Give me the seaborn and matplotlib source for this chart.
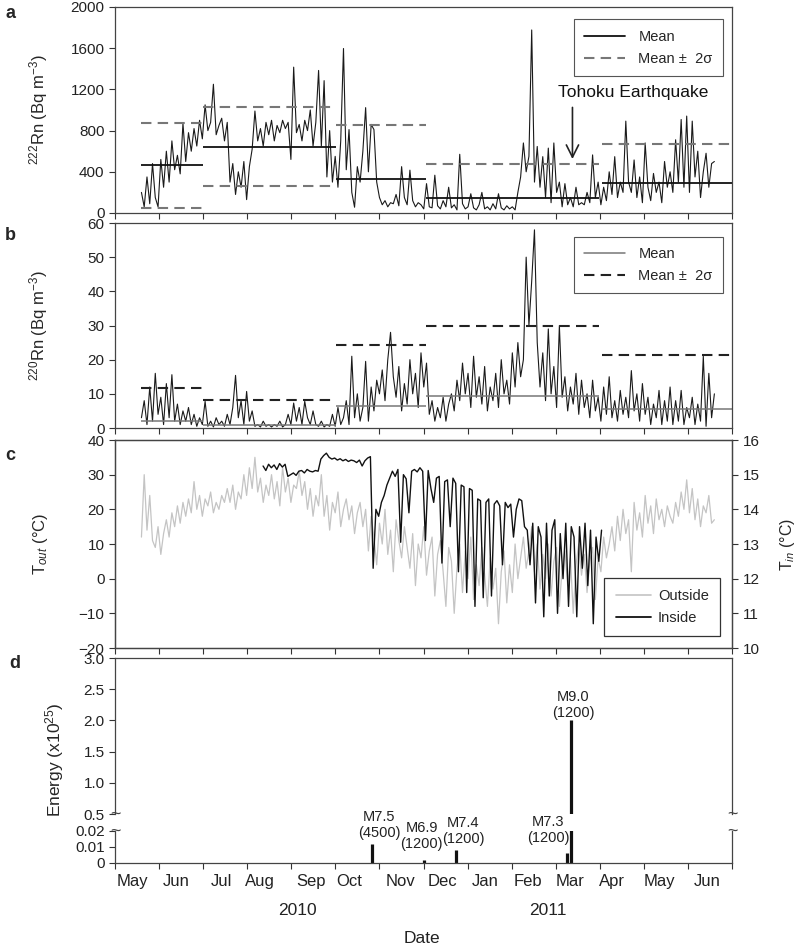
import numpy as np
import pandas as pd
import matplotlib
matplotlib.use("Agg")
import matplotlib.pyplot as plt
import matplotlib.transforms as mtransforms
from matplotlib.lines import Line2D
import seaborn as sns

# ---------------- data (x in months since 1 May 2010) ----------------
month_labels = ["May", "Jun", "Jul", "Aug", "Sep", "Oct", "Nov", "Dec",
                "Jan", "Feb", "Mar", "Apr", "May", "Jun"]
month_label_pos = [0.39, 1.40, 2.42, 3.29, 4.45, 5.32, 6.47, 7.43,
                   8.39, 9.36, 10.32, 11.27, 12.35, 13.43]
year_labels = ["2010", "2011"]
year_label_pos = [4.14, 9.83]

# 222Rn (Bq m-3), mid-May 2010 .. mid-Jun 2011
rn222 = [
    200, 60, 350, 90, 480, 150, 60, 520, 250, 600, 300, 700, 420, 560, 380, 870,
    500, 780, 600, 820, 650, 900, 720, 1050, 800, 880, 1250, 760, 850, 920, 700, 880,
    300, 480, 180, 400, 250, 500, 130, 450, 620, 990, 700, 820, 650, 880, 760, 900,
    700, 850, 780, 900, 820, 880, 520, 1416, 780, 860, 700, 900, 800, 1000, 650, 880,
    1384, 650, 1285, 350, 800, 300, 550, 250, 700, 1597, 420, 810, 200, 56, 450, 300,
    600, 1023, 400, 860, 810, 300, 150, 80, 120, 60, 100, 90, 180, 70, 450, 150,
    80, 416, 120, 60, 100, 80, 40, 285, 60, 50, 367, 70, 40, 120, 60, 250,
    50, 80, 30, 570, 90, 40, 60, 187, 50, 30, 80, 200, 40, 60, 30, 90,
    40, 187, 50, 30, 70, 40, 60, 30, 200, 350, 680, 400, 550, 1777, 300, 646,
    250, 547, 150, 630, 100, 680, 200, 300, 60, 285, 80, 150, 60, 250, 80, 100,
    80, 200, 100, 564, 150, 300, 80, 250, 120, 400, 180, 547, 150, 300, 200, 892,
    300, 200, 515, 150, 350, 100, 680, 250, 120, 384, 200, 300, 100, 500, 250, 400,
    200, 711, 300, 908, 250, 941, 200, 892, 350, 600, 150, 400, 580, 250, 480, 500,
]
# 220Rn (Bq m-3)
rn220 = [
    3, 8, 1, 12, 2, 16, 4, 9, 1, 13, 3, 15.6, 2, 7, 1, 5,
    2, 6, 1, 4, 0.5, 3, 1, 7.8, 0.5, 2, 0.3, 3, 1, 2, 0.5, 4,
    1, 6, 15.4, 3, 8, 1, 10.7, 2, 5, 0.5, 1, 0.3, 2, 0.5, 1, 0.3,
    1, 0.5, 2, 0.3, 1, 4, 1, 7.3, 2, 6, 1, 7.8, 3, 1, 5, 1,
    0.5, 2, 0.3, 1, 0.5, 4, 0.5, 6, 1, 3, 8, 1, 21, 3, 10, 2,
    6, 19.5, 2, 12, 5, 14, 10, 17, 8, 20, 28, 15, 9, 18, 5, 13,
    7, 20, 10, 16, 6, 22, 12, 19, 4, 8, 2, 6, 3, 9, 2, 7,
    10, 5, 14, 8, 19, 10, 16, 6, 21, 9, 15, 7, 18, 5, 12, 8,
    16, 6, 20, 10, 14, 7, 22, 12, 25, 15, 20, 50, 30, 43, 58, 25,
    12, 22, 8, 29, 10, 18, 6, 30, 9, 15, 5, 12, 7, 16, 4, 14,
    6, 10, 3, 14, 5, 9, 2, 12, 4, 15, 3, 8, 2, 11, 4, 9,
    3, 16.8, 5, 10, 2, 13, 4, 9, 1, 7, 3, 11, 1, 8, 2, 12,
    1, 8, 2, 11, 1, 6, 3, 9, 1, 7, 2, 21, 0.5, 16, 3, 10,
]
# Outside temperature (deg C)
t_outside = [
    12, 30, 14, 24, 11, 9, 15, 7, 13, 17, 12, 19, 15, 21, 16, 22,
    18, 23, 19, 28, 20, 24, 18, 23, 21, 25, 19, 22, 20, 24, 22, 26,
    22, 27, 20, 25, 23, 30, 24, 32, 26, 35, 25, 29, 22, 27, 24, 30,
    23, 28, 21, 32, 25, 29, 22, 27, 26, 31, 24, 28, 20, 26, 18, 24,
    21, 30, 18, 24, 14, 22, 19, 25, 15, 20, 23, 17, 21, 13, 19, 22,
    15, 20, 8, 18, 12, 4, 16, 10, 20, 7, 14, 2, 17, 11, 6, 15,
    9, 3, 13, -2, 10, 6, 15, 1, 8, 12, -5, 7, 11, 2, -8, 9,
    5, -10, 3, 10, -4, 8, 0, 12, -6, 4, -2, 9, 1, -8, 6, -3,
    3, -13, 2, 8, -7, 4, -4, 10, 0, 6, 12, 3, 8, 15, 2, 10,
    -3, 7, 0, 10, -5, 5, 9, -8, 3, 8, -2, 6, -10, 4, 10, 1,
    7, -4, 5, 9, -6, 6, 2, 12, 6, 10, 15, 8, 18, 11, 20, 13,
    17, 2, 22, 14, 19, 12, 24, 16, 21, 13, 23, 17, 20, 15, 21, 18,
    16, 22, 18, 25, 20, 28.5, 19, 26, 17, 23, 15, 21, 19, 24, 16, 17,
]
# Inside temperature (deg C, right axis), mid-Aug 2010 .. early Apr 2011
t_inside = [
    15.25, 15.12, 15.3, 15.2, 15.28, 15.15, 15.32, 15.22, 15.3,
    14.95, 15.0, 15.05, 14.98, 15.1, 15.12, 15.05, 15.15, 15.1, 15.08, 15.12, 15.1,
    15.45, 15.55, 15.62, 15.5, 15.45, 15.48, 15.42, 15.46, 15.4, 15.44, 15.38,
    15.42, 15.4, 15.35, 15.42, 15.25, 15.4, 15.48, 15.52,
    12.3, 14.0, 13.8, 14.2, 14.4, 14.7, 14.9, 15.1, 14.95, 15.15, 13.05, 15.0,
    14.88, 13.9, 15.1, 15.15, 15.08, 15.2, 15.1, 13.1, 15.12, 14.6,
    14.2, 14.9, 14.95, 12.45, 14.8, 14.85, 13.5, 14.9, 14.75, 12.2, 14.7, 14.65,
    11.6, 14.6, 14.55,
    11.2, 14.3, 14.25, 11.45, 14.2, 14.3, 11.5, 14.15, 14.25, 14.1, 12.4, 14.2,
    14.05, 14.15, 13.2, 14.0, 14.3, 14.25, 13.5,
    13.4, 12.4, 13.6, 11.3, 13.5, 13.2, 10.9, 13.6, 11.5, 13.4, 13.7, 11.0, 13.3,
    12.0, 13.6, 11.2, 13.5, 13.2, 10.9, 13.5, 12.3, 13.6, 11.8, 13.4, 10.7, 13.2,
    12.5, 13.4,
]
# Mean / mean + 2 sigma periods
seg_start = [0.6, 2.0, 5.02, 7.05, 11.04]
seg_end = [2.0, 5.02, 7.05, 10.99, 14.0]
rn222_mean = [466, 643, 334, 148, 292]
rn222_up = [872, 1033, 856, 475, 666]
rn222_low = [49, 259, np.nan, np.nan, np.nan]
rn220_mean = [2.0, 1.0, 6.3, 9.5, 5.7]
rn220_up = [11.7, 8.3, 24.2, 29.8, 21.4]
# Earthquakes
eq_pos = [5.84, 7.01, 7.73, 10.25, 10.35]
eq_energy = [0.012, 0.0016, 0.0082, 0.0062, 2.0]
eq_label = ["M7.5\n(4500)", "M6.9\n(1200)", "M7.4\n(1200)", "M7.3\n(1200)", "M9.0\n(1200)"]

t_rn = np.linspace(0.6, 13.6, len(rn222))
t_rn2 = np.linspace(0.6, 13.6, len(rn220))
t_out = np.linspace(0.6, 13.6, len(t_outside))
t_in = np.linspace(3.36, 11.04, len(t_inside))

# ---------------- style ----------------
sns.set_style("ticks")
plt.rcParams['font.family'] = ['Liberation Sans', 'DejaVu Sans']
plt.rcParams['mathtext.fontset'] = 'custom'
plt.rcParams['mathtext.rm'] = 'Liberation Sans'
plt.rcParams['mathtext.it'] = 'Liberation Sans:italic'
plt.rcParams['mathtext.bf'] = 'Liberation Sans:bold'

W, H = 800, 947
fig = plt.figure(figsize=(W / 100, H / 100), dpi=100)
fig.patch.set_facecolor('white')


def px_axes(x0, y0, x1, y1):
    return fig.add_axes([x0 / W, 1 - y1 / H, (x1 - x0) / W, (y1 - y0) / H])


L, R = 115, 732
ax_a = px_axes(L, 7, R, 213)
ax_b = px_axes(L, 223, R, 428)
ax_c = px_axes(L, 440, R, 648)
ax_dt = px_axes(L, 658, R, 814)
ax_db = px_axes(L, 831, R, 863)

SP = '#444444'
TK = '#333333'
TFS = 11
LFS = 12
for ax in [ax_a, ax_b, ax_c, ax_dt, ax_db]:
    ax.set_facecolor('white')
    ax.set_xlim(0, 14)
    for s in ax.spines.values():
        s.set_color(SP)
        s.set_linewidth(0.9)
        s.set_visible(True)
    ax.tick_params(direction='out', length=4, width=0.8, colors=TK,
                   labelsize=TFS, labelcolor='#222222')
    ax.set_xticks(np.arange(0, 15))
    ax.set_xticklabels([])
    ax.set_xlabel('')
    ax.set_ylabel('')

# ---- panel a ----
sns.lineplot(x=t_rn, y=rn222, ax=ax_a, color='#1a1a1a', lw=0.8, estimator=None)
ax_a.hlines(rn222_mean, seg_start, seg_end, colors='#111111', lw=1.3)
ax_a.hlines(rn222_up, seg_start, seg_end, colors='#777777', lw=1.5, linestyles=(0, (5, 3)))
ax_a.hlines(rn222_low, seg_start, seg_end, colors='#777777', lw=1.5, linestyles=(0, (5, 3)))
ax_a.set_ylim(0, 2000)
ax_a.set_yticks(np.arange(0, 2001, 400))
ax_a.set_ylabel(r'$^{222}$Rn (Bq m$^{-3}$)', fontsize=LFS)
ax_a.yaxis.set_label_coords(-0.105, 0.5)
ax_a.annotate('', xy=(10.38, 497), xytext=(10.38, 1052),
              arrowprops=dict(arrowstyle='->', lw=1.2, color='#222222', mutation_scale=22))
ax_a.text(11.76, 1167, 'Tohoku Earthquake', ha='center', va='center', fontsize=12.5, color='#111111')
h_a = [Line2D([], [], color='#111111', lw=1.3),
       Line2D([], [], color='#777777', lw=1.5, ls=(0, (5, 3)))]
leg = ax_a.legend(h_a, ['Mean', 'Mean ±  2σ'], loc='upper right', bbox_to_anchor=(0.997, 0.975),
                  fontsize=10.5, frameon=True, fancybox=False, framealpha=1, edgecolor='#555555',
                  handlelength=2.8, borderpad=0.7, labelspacing=0.55, handletextpad=0.9)
leg.get_frame().set_linewidth(0.8)

# ---- panel b ----
sns.lineplot(x=t_rn2, y=rn220, ax=ax_b, color='#1a1a1a', lw=0.8, estimator=None)
ax_b.hlines(rn220_mean, seg_start, seg_end, colors='#777777', lw=1.1)
ax_b.hlines(rn220_up, seg_start, seg_end, colors='#222222', lw=1.5, linestyles=(0, (5, 3)))
ax_b.set_ylim(0, 60)
ax_b.set_yticks(np.arange(0, 61, 10))
ax_b.set_ylabel(r'$^{220}$Rn (Bq m$^{-3}$)', fontsize=LFS)
ax_b.yaxis.set_label_coords(-0.105, 0.5)
h_b = [Line2D([], [], color='#777777', lw=1.1),
       Line2D([], [], color='#222222', lw=1.5, ls=(0, (5, 3)))]
leg = ax_b.legend(h_b, ['Mean', 'Mean ±  2σ'], loc='upper right', bbox_to_anchor=(0.997, 0.967),
                  fontsize=10.5, frameon=True, fancybox=False, framealpha=1, edgecolor='#555555',
                  handlelength=2.8, borderpad=0.7, labelspacing=0.55, handletextpad=0.9)
leg.get_frame().set_linewidth(0.8)

# ---- panel c ----
sns.lineplot(x=t_out, y=t_outside, ax=ax_c, color='#c4c4c4', lw=0.9, estimator=None)
ax_c.set_ylim(-20, 40)
ax_c.set_yticks(np.arange(-20, 41, 10))
ax_c.set_ylabel('T$_{out}$ (°C)', fontsize=LFS)
ax_c.yaxis.set_label_coords(-0.105, 0.5)
ax_c2 = ax_c.twinx()
sns.lineplot(x=t_in, y=t_inside, ax=ax_c2, color='#111111', lw=1.0, estimator=None)
ax_c2.set_ylim(10, 16)
ax_c2.set_yticks(np.arange(10, 17, 1))
ax_c2.tick_params(direction='out', length=4, width=0.8, colors=TK, labelsize=TFS, labelcolor='#222222')
for s in ax_c2.spines.values():
    s.set_color(SP)
    s.set_linewidth(0.9)
ax_c2.set_ylabel('T$_{in}$ (°C)', fontsize=11.5)
ax_c2.yaxis.set_label_coords(1.074, 0.5)
ax_c2.set_xlim(0, 14)
h_c = [Line2D([], [], color='#c4c4c4', lw=1.2), Line2D([], [], color='#111111', lw=1.3)]
leg = ax_c2.legend(h_c, ['Outside', 'Inside'], loc='lower right', bbox_to_anchor=(0.993, 0.021),
                   fontsize=10.5, frameon=True, fancybox=False, framealpha=1, edgecolor='#333333',
                   handlelength=2.4, borderpad=0.8, labelspacing=0.5, handletextpad=0.5)
leg.get_frame().set_linewidth(0.9)

# ---- panel d (broken axis) ----
for ax in [ax_dt, ax_db]:
    ax.vlines(eq_pos, 0, eq_energy, colors='#111111', lw=2.3)
ax_dt.set_ylim(0.5, 3.0)
ax_dt.set_yticks(np.arange(0.5, 3.01, 0.5))
ax_dt.set_yticklabels([f'{v:.1f}' for v in np.arange(0.5, 3.01, 0.5)])
ax_dt.spines['bottom'].set_visible(False)
ax_dt.tick_params(axis='x', bottom=False)
ax_db.set_ylim(0, 0.02)
ax_db.set_yticks([0, 0.01, 0.02])
ax_db.set_yticklabels(['0', '0.01', '0.02'])
ax_db.spines['top'].set_visible(False)
ax_db.set_xticks(month_label_pos, minor=True)
ax_db.set_xticklabels(month_labels, minor=True)
ax_db.tick_params(axis='x', which='minor', length=0, pad=8, labelsize=12, labelcolor='#222222')
fig.text(55 / W, 1 - 760 / H, 'Energy (x10$^{25}$)', rotation=90, ha='center', va='center', fontsize=12.5)

# break marks
for ax, yy in [(ax_dt, 0.0), (ax_db, 1.0)]:
    for xx in [0.0, 1.0]:
        ax.text(xx, yy, '~', transform=ax.transAxes, ha='center', va='center',
                fontsize=13, color='#444444', clip_on=False)

# earthquake labels
blend = mtransforms.blended_transform_factory(ax_db.transData, fig.transFigure)
label_x = [6.0, 6.96, 7.90, 9.83, 10.39]
label_y = [825, 836, 831, 830, 705]
for lx, ly, txt in zip(label_x, label_y, eq_label):
    ax_db.text(lx, 1 - ly / H, txt, transform=blend, ha='center', va='center',
               fontsize=10.5, color='#222222', linespacing=1.1, clip_on=False)

for yl, yp in zip(year_labels, year_label_pos):
    ax_db.text(yp, 1 - 910 / H, yl, transform=blend, ha='center', va='center', fontsize=12.5, color='#222222')
ax_db.text(6.96, 1 - 938 / H, 'Date', transform=blend, ha='center', va='center', fontsize=12.5, color='#222222')

# panel letters
for letter, (px, py) in zip('abcd', [(10, 13), (10, 236), (10, 455), (15, 663)]):
    fig.text(px / W, 1 - py / H, letter, fontsize=13, fontweight='bold', ha='center', va='center')

fig.savefig('out.png', dpi=100, facecolor='white')
